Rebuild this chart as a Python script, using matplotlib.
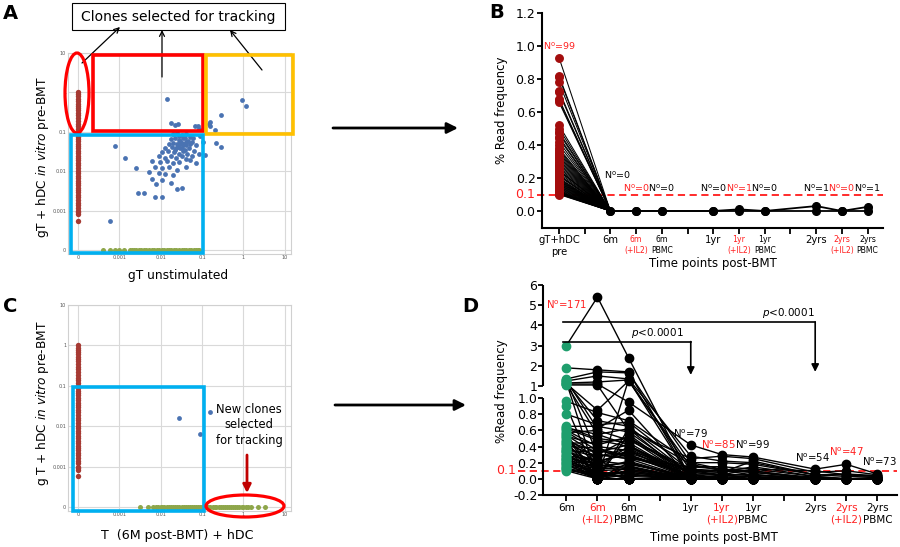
import numpy as np
import matplotlib
matplotlib.use("Agg")
import matplotlib.pyplot as plt
from matplotlib.patches import Rectangle, Ellipse, FancyArrowPatch

# ---------------- data (percent read frequency) ----------------
# panel A: gT unstimulated (x) vs gT + hDC pre-BMT (y)
a_red_y = [1.0, 0.9, 0.8, 0.7, 0.6, 0.52, 0.45, 0.4, 0.35, 0.3, 0.26, 0.22, 0.19, 0.16,
           0.14, 0.12, 0.1, 0.088, 0.076, 0.066, 0.058, 0.05, 0.044, 0.038, 0.033, 0.029,
           0.025, 0.022, 0.019, 0.016, 0.014, 0.012, 0.01, 0.0088, 0.0076, 0.0066, 0.0058,
           0.005, 0.0044, 0.0038, 0.0033, 0.0029, 0.0025, 0.0022, 0.0019, 0.0016, 0.0014,
           0.0012, 0.001, 0.0009, 0.0008, 0.00055]
a_green_x = [0.0004, 0.00059, 0.00078, 0.001, 0.0013, 0.0018, 0.002, 0.0023, 0.0026, 0.003,
             0.0034, 0.0039, 0.0045, 0.0052, 0.006, 0.0069, 0.008, 0.0092, 0.0105, 0.012,
             0.014, 0.016, 0.018, 0.021, 0.024, 0.028, 0.032, 0.037, 0.042, 0.048, 0.055,
             0.063, 0.072, 0.08, 0.085]
a_blue_x = [0.00078, 0.0014, 0.0025, 0.00059, 0.0028, 0.004, 0.0074, 0.011, 0.025, 0.033,
            0.014, 0.91, 1.15, 0.29, 0.16, 0.2, 0.22, 0.29, 0.115, 0.079, 0.085,
            0.018, 0.022, 0.026, 0.066, 0.15, 0.16, 0.105, 0.089,
            0.020, 0.025, 0.032, 0.040, 0.050, 0.060, 0.018, 0.022, 0.028, 0.035, 0.045, 0.056,
            0.016, 0.020, 0.025, 0.032, 0.040, 0.050, 0.071, 0.013, 0.019, 0.024, 0.030, 0.038,
            0.048, 0.063, 0.011, 0.015, 0.021, 0.027, 0.034, 0.043, 0.056, 0.083, 0.0089, 0.013,
            0.018, 0.024, 0.032, 0.040, 0.052, 0.0063, 0.0095, 0.014, 0.020, 0.028, 0.071,
            0.0071, 0.0105, 0.016, 0.025, 0.042, 0.0052, 0.0089, 0.013, 0.020, 0.006, 0.011,
            0.018, 0.0079, 0.028, 0.035, 0.022, 0.028, 0.042, 0.032, 0.026, 0.035, 0.030, 0.038]
a_blue_y = [0.044, 0.022, 0.012, 0.00055, 0.0028, 0.0028, 0.0022, 0.0022, 0.0035, 0.0037,
            0.69, 0.65, 0.44, 0.27, 0.18, 0.11, 0.052, 0.042, 0.026, 0.14, 0.12,
            0.17, 0.15, 0.16, 0.14, 0.16, 0.14, 0.056, 0.079,
            0.089, 0.095, 0.083, 0.089, 0.076, 0.071, 0.066, 0.071, 0.063, 0.068, 0.060, 0.056,
            0.050, 0.052, 0.048, 0.052, 0.046, 0.050, 0.045, 0.040, 0.042, 0.038, 0.040, 0.035,
            0.038, 0.033, 0.030, 0.032, 0.030, 0.028, 0.032, 0.028, 0.025, 0.028, 0.024, 0.022,
            0.024, 0.022, 0.024, 0.021, 0.019, 0.018, 0.017, 0.018, 0.016, 0.017, 0.016,
            0.013, 0.012, 0.013, 0.011, 0.013, 0.0095, 0.0089, 0.0083, 0.0079, 0.0063, 0.006,
            0.005, 0.0048, 0.079, 0.045, 0.035, 0.050, 0.056, 0.040, 0.042, 0.050, 0.060, 0.071]

# panel C: T (6M post-BMT) + hDC (x) vs gT + hDC pre-BMT (y)
c_red_y = [1.0, 0.88, 0.78, 0.68, 0.6, 0.52, 0.46, 0.4, 0.35, 0.3, 0.26, 0.22, 0.19, 0.16,
           0.14, 0.12, 0.1, 0.088, 0.076, 0.066, 0.058, 0.05, 0.044, 0.038, 0.033, 0.029,
           0.025, 0.022, 0.019, 0.016, 0.014, 0.012, 0.01, 0.0088, 0.0076, 0.0066, 0.0058,
           0.005, 0.0044, 0.0038, 0.0033, 0.0029, 0.0025, 0.0022, 0.0019, 0.0016, 0.0014,
           0.0012, 0.001, 0.0009, 0.0008, 0.0006]
c_green_x = [0.0032, 0.0049, 0.0065, 0.0078, 0.0088, 0.01, 0.011, 0.012, 0.014, 0.016, 0.018,
             0.02, 0.022, 0.025, 0.028, 0.032, 0.036, 0.04, 0.045, 0.05, 0.056, 0.063, 0.07,
             0.08, 0.09, 0.1, 0.11, 0.125, 0.14, 0.16, 0.18, 0.2, 0.22, 0.25, 0.28, 0.32, 0.36,
             0.4, 0.45, 0.5, 0.56, 0.63, 0.7, 0.8, 0.9, 1.0, 1.15, 1.3, 1.55, 2.2, 3.4]
c_blue_x = [0.028, 0.091, 0.16]
c_blue_y = [0.016, 0.0064, 0.022]

log_ticks = [0, 0.001, 0.01, 0.1, 1, 10]
log_tick_labels = ['0', '0.001', '0.01', '0.1', '1', '10']

# panel B: clones selected pre-BMT, tracked post-BMT
b_pos = [0, 2, 3, 4, 6, 7, 8, 10, 11, 12]
b_labels = ['gT+hDC\npre', '6m', '6m\n(+IL2)', '6m\nPBMC', '1yr', '1yr\n(+IL2)',
            '1yr\nPBMC', '2yrs', '2yrs\n(+IL2)', '2yrs\nPBMC']
b_pre = [0.93, 0.82, 0.81, 0.78, 0.73, 0.72, 0.68, 0.67, 0.66, 0.52, 0.50, 0.48, 0.47,
         0.45, 0.44, 0.42, 0.40, 0.38, 0.37, 0.36, 0.35, 0.34, 0.33, 0.32, 0.31, 0.30,
         0.29, 0.28, 0.27, 0.26, 0.25, 0.245, 0.24, 0.23, 0.22, 0.215, 0.21, 0.20, 0.195,
         0.19, 0.185, 0.18, 0.175, 0.17, 0.165, 0.16, 0.155, 0.15, 0.145, 0.14, 0.135,
         0.13, 0.125, 0.12, 0.118, 0.115, 0.112, 0.11, 0.108, 0.105, 0.103, 0.10]
b_late = [[0, 0, 0, 0, 0.01, 0, 0.03, 0, 0.025],
          [0, 0, 0, 0, 0, 0, 0, 0, 0]]
b_counts = ['99', '0', '0', '0', '0', '1', '0', '1', '0', '1']
b_count_x = [0, 2.27, 3, 4, 6, 7, 8, 10, 11, 12]
b_count_y = [1.0, 0.22, 0.14, 0.14, 0.14, 0.14, 0.14, 0.14, 0.14, 0.14]
b_count_red = [True, False, True, False, False, True, False, False, True, False]

# panel D: new clones selected at 6m, tracked to 2 years
d_pos = [0, 1, 2, 4, 5, 6, 8, 9, 10]
d_labels = ['6m', '6m\n(+IL2)', '6m\nPBMC', '1yr', '1yr\n(+IL2)', '1yr\nPBMC',
            '2yrs', '2yrs\n(+IL2)', '2yrs\nPBMC']
d_clones = [
    [3.00, 5.40, 2.40, 0.00, 0.00, 0.00, 0.00, 0.00, 0.00],
    [1.90, 1.80, 1.70, 0.00, 0.00, 0.00, 0.00, 0.00, 0.00],
    [1.35, 1.70, 1.65, 0.20, 0.12, 0.10, 0.00, 0.00, 0.00],
    [1.25, 1.50, 1.35, 0.28, 0.22, 0.20, 0.05, 0.03, 0.02],
    [1.15, 1.20, 1.30, 0.10, 0.05, 0.05, 0.00, 0.00, 0.00],
    [1.10, 1.10, 0.95, 0.42, 0.30, 0.27, 0.12, 0.18, 0.06],
    [1.05, 1.05, 0.60, 0.25, 0.28, 0.25, 0.08, 0.10, 0.05],
    [1.30, 0.30, 0.50, 0.00, 0.00, 0.00, 0.00, 0.00, 0.00],
    [1.20, 0.00, 1.30, 0.00, 0.00, 0.00, 0.00, 0.00, 0.00],
    [1.12, 0.85, 1.25, 0.15, 0.15, 0.12, 0.03, 0.00, 0.02],
    [1.28, 0.62, 0.85, 0.00, 0.00, 0.00, 0.00, 0.00, 0.00],
    [1.18, 0.72, 0.65, 0.05, 0.00, 0.00, 0.00, 0.00, 0.00],
    [1.08, 0.55, 0.42, 0.00, 0.00, 0.00, 0.00, 0.00, 0.00],
    [0.96, 0.82, 0.72, 0.20, 0.20, 0.18, 0.05, 0.05, 0.03],
    [0.90, 0.00, 0.62, 0.00, 0.00, 0.00, 0.00, 0.00, 0.00],
    [0.80, 0.67, 0.70, 0.10, 0.10, 0.10, 0.00, 0.00, 0.00],
    [0.65, 0.65, 0.58, 0.05, 0.05, 0.05, 0.00, 0.00, 0.00],
    [0.64, 0.50, 0.45, 0.00, 0.00, 0.00, 0.00, 0.00, 0.00],
    [0.63, 0.55, 0.62, 0.18, 0.10, 0.05, 0.00, 0.00, 0.00],
    [0.62, 0.48, 0.40, 0.08, 0.05, 0.00, 0.00, 0.00, 0.00],
    [0.60, 0.40, 0.35, 0.00, 0.00, 0.00, 0.00, 0.00, 0.00],
    [0.58, 0.35, 0.30, 0.05, 0.00, 0.00, 0.00, 0.00, 0.00],
    [0.57, 0.60, 0.48, 0.10, 0.08, 0.15, 0.03, 0.00, 0.00],
    [0.56, 0.00, 0.55, 0.00, 0.00, 0.00, 0.00, 0.00, 0.00],
    [0.54, 0.30, 0.25, 0.00, 0.00, 0.00, 0.00, 0.00, 0.00],
    [0.53, 0.42, 0.52, 0.05, 0.00, 0.05, 0.00, 0.00, 0.00],
    [0.52, 0.00, 0.20, 0.00, 0.00, 0.00, 0.00, 0.00, 0.00],
    [0.50, 0.25, 0.00, 0.00, 0.00, 0.00, 0.00, 0.00, 0.00],
    [0.48, 0.20, 0.35, 0.00, 0.00, 0.00, 0.00, 0.00, 0.00],
    [0.47, 0.33, 0.42, 0.00, 0.03, 0.00, 0.00, 0.00, 0.00],
    [0.46, 0.00, 0.00, 0.00, 0.00, 0.00, 0.00, 0.00, 0.00],
    [0.44, 0.45, 0.50, 0.12, 0.10, 0.08, 0.00, 0.00, 0.00],
    [0.43, 0.28, 0.32, 0.08, 0.05, 0.02, 0.00, 0.00, 0.00],
    [0.42, 0.15, 0.40, 0.00, 0.00, 0.00, 0.00, 0.00, 0.00],
    [0.40, 0.38, 0.28, 0.05, 0.02, 0.03, 0.00, 0.00, 0.00],
    [0.38, 0.00, 0.15, 0.00, 0.00, 0.00, 0.00, 0.00, 0.00],
    [0.37, 0.27, 0.38, 0.00, 0.00, 0.00, 0.00, 0.00, 0.00],
    [0.36, 0.10, 0.00, 0.00, 0.00, 0.00, 0.00, 0.00, 0.00],
    [0.35, 0.15, 0.20, 0.00, 0.05, 0.12, 0.10, 0.05, 0.03],
    [0.34, 0.22, 0.18, 0.03, 0.00, 0.00, 0.00, 0.00, 0.00],
    [0.33, 0.35, 0.27, 0.05, 0.00, 0.00, 0.00, 0.00, 0.00],
    [0.32, 0.00, 0.10, 0.00, 0.00, 0.00, 0.00, 0.00, 0.00],
    [0.30, 0.12, 0.22, 0.00, 0.00, 0.00, 0.00, 0.00, 0.00],
    [0.29, 0.22, 0.30, 0.00, 0.00, 0.00, 0.00, 0.00, 0.00],
    [0.28, 0.00, 0.00, 0.00, 0.00, 0.00, 0.00, 0.00, 0.00],
    [0.27, 0.14, 0.16, 0.00, 0.00, 0.00, 0.00, 0.00, 0.00],
    [0.26, 0.18, 0.12, 0.02, 0.00, 0.00, 0.00, 0.00, 0.00],
    [0.25, 0.20, 0.35, 0.10, 0.08, 0.22, 0.05, 0.06, 0.04],
    [0.24, 0.05, 0.08, 0.00, 0.00, 0.00, 0.00, 0.00, 0.00],
    [0.23, 0.16, 0.20, 0.00, 0.00, 0.00, 0.00, 0.00, 0.00],
    [0.22, 0.00, 0.05, 0.00, 0.00, 0.00, 0.00, 0.00, 0.00],
    [0.21, 0.12, 0.14, 0.00, 0.00, 0.00, 0.00, 0.00, 0.00],
    [0.20, 0.08, 0.00, 0.00, 0.00, 0.00, 0.00, 0.00, 0.00],
    [0.19, 0.10, 0.12, 0.00, 0.00, 0.00, 0.00, 0.00, 0.00],
    [0.18, 0.00, 0.00, 0.00, 0.00, 0.00, 0.00, 0.00, 0.00],
    [0.17, 0.08, 0.06, 0.00, 0.00, 0.00, 0.00, 0.00, 0.00],
    [0.16, 0.05, 0.10, 0.00, 0.00, 0.00, 0.00, 0.00, 0.00],
    [0.15, 0.30, 0.25, 0.15, 0.12, 0.08, 0.02, 0.00, 0.00],
    [0.14, 0.00, 0.00, 0.00, 0.00, 0.00, 0.00, 0.00, 0.00],
    [0.13, 0.06, 0.08, 0.00, 0.00, 0.00, 0.00, 0.00, 0.00],
    [0.12, 0.03, 0.05, 0.00, 0.00, 0.00, 0.00, 0.00, 0.00],
    [0.11, 0.04, 0.03, 0.00, 0.00, 0.00, 0.00, 0.00, 0.00],
    [0.10, 0.00, 0.00, 0.00, 0.00, 0.00, 0.00, 0.00, 0.00],
]
d_counts = ['171', '79', '85', '99', '54', '47', '73']
d_count_x = [0, 4, 4.9, 6, 7.9, 9, 10.05]
d_count_y = [5.0, 0.56, 0.42, 0.42, 0.26, 0.34, 0.21]
d_count_red = [True, False, True, False, False, True, False]

THRESHOLD = 0.1

RED_TXT = '#ff2020'
DARK_RED = '#a30d0d'
GREEN_D = '#1f9e6d'
STRIP_RED = '#a63a33'
STRIP_GREEN = '#8ea64a'
BLUE_PT = '#4a73b2'

W, H = 900, 547


def fx(px):
    return px / W


def fy(py):
    return 1 - py / H


# decade axis used by the scatter plots: 0 sits one decade left of 0.001
def to_dec(v):
    v = np.asarray(v, dtype=float)
    out = np.zeros_like(v)
    pos = v > 0
    out[pos] = np.log10(v[pos]) + 4
    return out


def from_dec(u):
    return 10 ** (np.asarray(u, dtype=float) - 4)


# broken y axis of panel D: 0-1 at full scale, 1-6 compressed above a gap
GAP, UP = 0.1485, 0.25


def d_fwd(v):
    v = np.asarray(v, dtype=float)
    return np.where(v <= 1, v, 1 + GAP + (v - 1) * UP)


def d_inv(t):
    t = np.asarray(t, dtype=float)
    return np.where(t <= 1, t, np.where(t < 1 + GAP, 1.0, 1 + (t - 1 - GAP) / UP))


def scatter_panel(ax, red_y, green_x, blue_x, blue_y):
    ax.set_xscale('function', functions=(to_dec, from_dec))
    ax.set_yscale('function', functions=(to_dec, from_dec))
    ax.scatter(np.zeros(len(red_y)), red_y, s=15, color=STRIP_RED, lw=0, zorder=3)
    ax.scatter(green_x, np.zeros(len(green_x)), s=13, color=STRIP_GREEN, lw=0, zorder=3)
    ax.scatter(blue_x, blue_y, s=12, color=BLUE_PT, lw=0, zorder=3)
    ax.set_xticks(log_ticks, log_tick_labels)
    ax.set_yticks(log_ticks, log_tick_labels)
    # limits after the ticks, otherwise set_ticks widens them to include 0
    ax.set_xlim(float(from_dec(-0.25)), float(from_dec(5.15)))
    ax.set_ylim(float(from_dec(-0.1)), 10)
    ax.tick_params(length=0, labelsize=3.5, labelcolor='#555555', pad=1)
    ax.grid(True, color='#d9d9d9', lw=0.8)
    ax.set_axisbelow(True)
    for s in ax.spines.values():
        s.set_color('#d0d0d0')
        s.set_linewidth(0.8)


def fig_rect(x0, y0, x1, y1, color, lw):
    fig.add_artist(Rectangle((fx(x0), fy(y1)), fx(x1) - fx(x0), (y1 - y0) / H,
                             transform=fig.transFigure, fill=False, ec=color, lw=lw))


def fig_ellipse(cx, cy, w, h, color, lw):
    fig.add_artist(Ellipse((fx(cx), fy(cy)), w / W, h / H, transform=fig.transFigure,
                           fill=False, ec=color, lw=lw))


def fig_arrow(x0, y0, x1, y1, style, color='k', lw=1.0, scale=10):
    fig.add_artist(FancyArrowPatch((fx(x0), fy(y0)), (fx(x1), fy(y1)),
                                   transform=fig.transFigure, arrowstyle=style,
                                   color=color, lw=lw, mutation_scale=scale,
                                   shrinkA=0, shrinkB=0))


fig = plt.figure(figsize=(9, 5.47), dpi=100)

# ---------------- panel A ----------------
axA = fig.add_axes([fx(67.6), fy(254), (291 - 67.6) / W, (254 - 53) / H])
scatter_panel(axA, a_red_y, a_green_x, a_blue_x, a_blue_y)

fig.text(fx(3), fy(13.5), 'A', fontsize=14, fontweight='bold', va='center')
fig_rect(72, 3, 285, 30, 'k', 0.8)
fig.text(fx(178), fy(17), 'Clones selected for tracking', fontsize=10, ha='center', va='center')
fig_arrow(82, 63, 120, 27, '->', lw=0.9, scale=9)
fig_arrow(162, 77, 162, 30, '->', lw=0.9, scale=9)
fig_arrow(262, 70, 230, 30, '->', lw=0.9, scale=9)
fig_ellipse(77, 93, 24, 80, '#ff0000', 2.3)
fig_rect(93, 55, 203, 131, '#ff0000', 2.6)
fig_rect(206, 55, 293, 134, '#ffc000', 2.6)
fig_rect(71, 135, 203, 253, '#00b0f0', 2.6)
fig.text(fx(43), fy(157), r'gT + hDC $\mathit{in\ vitro}$ pre-BMT', fontsize=8.7,
         rotation=90, ha='center', va='center')
fig.text(fx(178), fy(275), 'gT unstimulated', fontsize=8.8, ha='center', va='center')

# ---------------- panel C ----------------
axC = fig.add_axes([fx(67.6), fy(511), (291 - 67.6) / W, (511 - 305) / H])
scatter_panel(axC, c_red_y, c_green_x, c_blue_x, c_blue_y)

fig.text(fx(3), fy(306.5), 'C', fontsize=14, fontweight='bold', va='center')
fig_rect(73, 387, 204, 511, '#00b0f0', 2.6)
fig_ellipse(245, 506, 78, 22, '#ff0000', 2.3)
fig_arrow(247, 455, 247, 493, '-|>', color='#c00000', lw=2.0, scale=12)
fig.text(fx(249), fy(425), 'New clones\nselected\nfor tracking', fontsize=8.3,
         ha='center', va='center', linespacing=1.25)
fig.text(fx(43), fy(403), r'g T + hDC $\mathit{in\ vitro}$ pre-BMT', fontsize=8.7,
         rotation=90, ha='center', va='center')
fig.text(fx(177), fy(536), 'T  (6M post-BMT) + hDC', fontsize=9.1, ha='center', va='center')

# big arrows between panels
fig_arrow(333, 128, 458, 128, '-|>', lw=2.0, scale=16)
fig_arrow(335, 405, 466, 405, '-|>', lw=2.0, scale=16)

# ---------------- panel B ----------------
axB = fig.add_axes([fx(542), fy(227.5), 341 / W, 214.5 / H])
for v in b_pre:
    axB.plot([b_pos[0], b_pos[1]], [v, 0], color='k', lw=0.75, zorder=2)
axB.plot(np.full(len(b_pre), b_pos[0]), b_pre, 'o', color=DARK_RED, ms=5.4, zorder=4)
for row in b_late:
    axB.plot(b_pos[1:], row, '-o', color='k', lw=1.3, ms=5.5, zorder=3)
axB.axhline(THRESHOLD, xmin=-0.015, xmax=1, color='#ff1a1a', ls='--', lw=1.3,
            dashes=(4, 2.5), clip_on=False, zorder=1)
axB.text(-0.02, THRESHOLD, '0.1', transform=axB.get_yaxis_transform(), color=RED_TXT,
         fontsize=9, ha='right', va='center')
for txt, x, y, red in zip(b_counts, b_count_x, b_count_y, b_count_red):
    axB.text(x, y, r'N$^{\rm o}$=' + txt, color=RED_TXT if red else 'k', fontsize=6.8,
             ha='center', va='center')
axB.set_xlim(-0.66, 12.6)
axB.set_ylim(-0.1, 1.2)
axB.set_yticks([0, 0.2, 0.4, 0.6, 0.8, 1.0, 1.2], ['0.0', '0.2', '0.4', '0.6', '0.8', '1.0', '1.2'])
b_tick_text = [''] * 13
for p, lab in zip(b_pos, b_labels):
    b_tick_text[p] = lab
axB.set_xticks(range(13), b_tick_text)
for p, lab in zip(range(13), axB.get_xticklabels()):
    if p in b_pos:
        i = b_pos.index(p)
        small = '\n' in b_labels[i] and i > 0
        lab.set_fontsize(5.6 if small else 7.2)
        lab.set_color(RED_TXT if '(+IL2)' in b_labels[i] else 'k')
axB.tick_params(axis='x', length=4, width=1.3, pad=1.5)
axB.tick_params(axis='y', length=3.6, width=1.3, pad=1, labelsize=9)
for s in ['top', 'right']:
    axB.spines[s].set_visible(False)
for s in ['left', 'bottom']:
    axB.spines[s].set_linewidth(1.5)
fig.text(fx(497), fy(13), 'B', fontsize=14, fontweight='bold', ha='center', va='center')
fig.text(fx(501), fy(110), '% Read frequency', fontsize=8.5, rotation=90, ha='center', va='center')
fig.text(fx(713), fy(264), 'Time points post-BMT', fontsize=8.5, ha='center', va='center')

# ---------------- panel D ----------------
axD = fig.add_axes([fx(543), fy(495), 354 / W, 210 / H])
axD.set_yscale('function', functions=(d_fwd, d_inv))
for row in d_clones:
    axD.plot(d_pos, row, '-', color='k', lw=1.0, zorder=2)
for row in d_clones:
    axD.plot(d_pos[1:], row[1:], 'o', color='k', ms=6, zorder=3)
axD.plot(np.full(len(d_clones), d_pos[0]), [r[0] for r in d_clones], 'o', color=GREEN_D,
         ms=6, zorder=4)
axD.axhline(THRESHOLD, xmin=-0.07, xmax=1, color='#ff1a1a', ls='--', lw=1.3,
            dashes=(4, 2.5), clip_on=False, zorder=1)
axD.text(-0.075, THRESHOLD, '0.1', transform=axD.get_yaxis_transform(), color=RED_TXT,
         fontsize=9, ha='right', va='center')
for txt, x, y, red in zip(d_counts, d_count_x, d_count_y, d_count_red):
    axD.text(x, y, r'N$^{\rm o}$=' + txt, color=RED_TXT if red else 'k', fontsize=7.3,
             ha='center', va='center', zorder=5)

# significance brackets (6m vs 1yr, 6m vs 2yrs)
for x_end, y_line, y_tip, x_txt in [(4, 3.2, 1.55, 2.93), (8, 4.17, 1.7, 7.14)]:
    axD.plot([-0.1, x_end], [y_line, y_line], color='k', lw=1.2, zorder=5)
    axD.annotate('', xy=(x_end, y_tip), xytext=(x_end, y_line),
                 arrowprops=dict(arrowstyle='-|>', color='k', lw=1.2, mutation_scale=11,
                                 shrinkA=0, shrinkB=0), zorder=5)
    axD.text(x_txt, y_line + 0.08, r'$p$<0.0001', fontsize=7.5, ha='center', va='bottom')

axD.set_xlim(-0.75, 10.63)
axD.set_ylim(-0.2, 6)
axD.set_yticks([-0.2, 0, 0.2, 0.4, 0.6, 0.8, 1.0, 1.000001, 2, 3, 4, 5, 6],
               ['-0.2', '0.0', '0.2', '0.4', '0.6', '0.8', '1.0', '1', '2', '3', '4', '5', '6'])
axD.minorticks_off()
d_tick_text = [''] * 11
for p, lab in zip(d_pos, d_labels):
    d_tick_text[p] = lab
axD.set_xticks(range(11), d_tick_text)
for p, lab in zip(range(11), axD.get_xticklabels()):
    if p in d_pos:
        lab.set_color(RED_TXT if '(+IL2)' in d_labels[d_pos.index(p)] else 'k')
axD.tick_params(axis='x', length=4, width=1.3, pad=2, labelsize=7.5)
axD.tick_params(axis='y', length=3.6, width=1.3, pad=0.5, labelsize=9)
for s in ['top', 'right', 'left']:
    axD.spines[s].set_visible(False)
axD.spines['bottom'].set_linewidth(1.5)
# two pieces of the broken y axis
axD.plot([0, 0], [-0.2, 1.0], transform=axD.get_yaxis_transform(), color='k', lw=1.5,
         clip_on=False, solid_capstyle='butt')
axD.plot([0, 0], [1.000001, 6], transform=axD.get_yaxis_transform(), color='k', lw=1.5,
         clip_on=False, solid_capstyle='butt')
fig.text(fx(470), fy(306.5), 'D', fontsize=14, fontweight='bold', ha='center', va='center')
fig.text(fx(501), fy(391), '%Read frequency', fontsize=8.5, rotation=90, ha='center', va='center')
fig.text(fx(714), fy(537), 'Time points post-BMT', fontsize=8.5, ha='center', va='center')

fig.savefig('out.png', dpi=100)
